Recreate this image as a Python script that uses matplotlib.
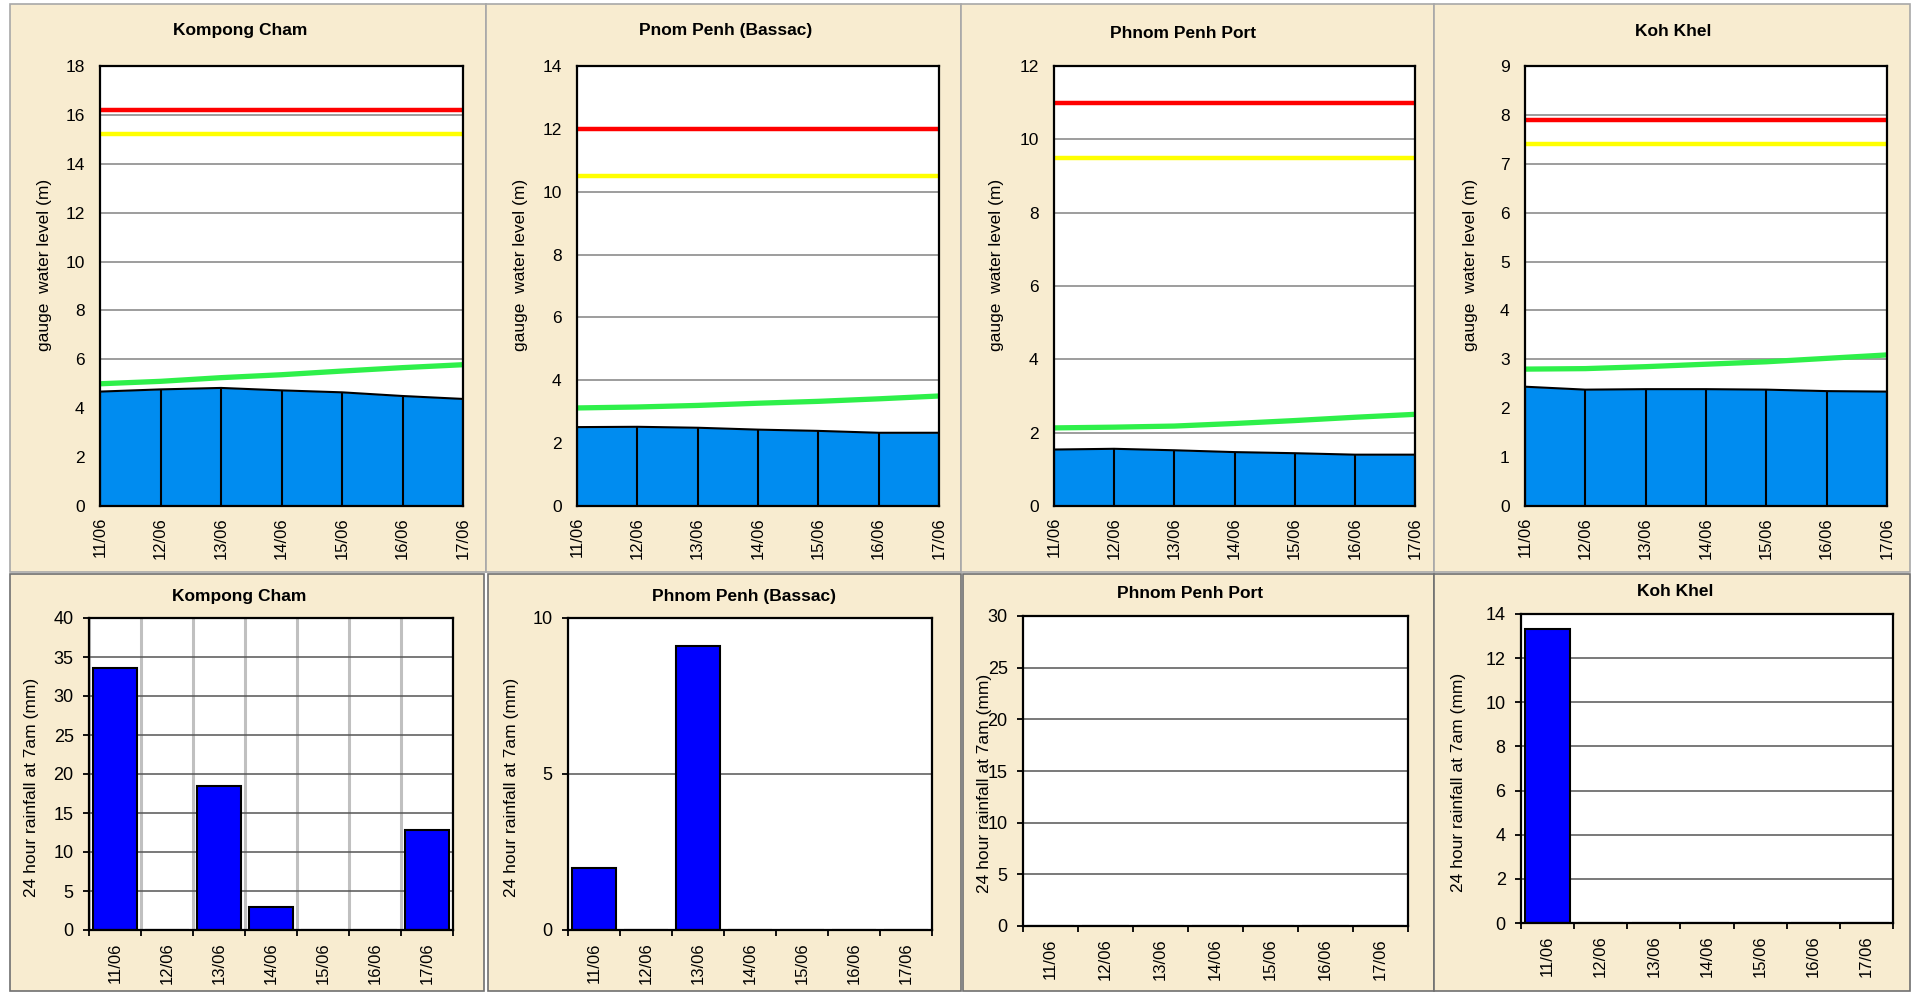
import matplotlib
matplotlib.use('Agg')
import matplotlib.pyplot as plt
from matplotlib.patches import Rectangle
from matplotlib.ticker import MultipleLocator, FixedLocator

plt.rcParams['font.family'] = ['Liberation Sans', 'DejaVu Sans']

W, H = 1912, 992

dates = ['11/06', '12/06', '13/06', '14/06', '15/06', '16/06', '17/06']

# water level panels (top row)
level_titles = ['Kompong Cham', 'Pnom Penh (Bassac)', 'Phnom Penh Port', 'Koh Khel']
kc_level = [4.68, 4.77, 4.83, 4.73, 4.65, 4.50, 4.38]
kc_green = [5.00, 5.10, 5.25, 5.37, 5.52, 5.66, 5.78]
pp_level = [2.51, 2.52, 2.49, 2.43, 2.39, 2.33, 2.33]
pp_green = [3.12, 3.15, 3.20, 3.27, 3.33, 3.41, 3.50]
port_level = [1.54, 1.56, 1.52, 1.47, 1.44, 1.40, 1.40]
port_green = [2.13, 2.15, 2.18, 2.25, 2.33, 2.42, 2.50]
kk_level = [2.44, 2.38, 2.39, 2.39, 2.38, 2.35, 2.34]
kk_green = [2.80, 2.81, 2.85, 2.90, 2.95, 3.02, 3.09]
alarm_levels = [16.2, 12.0, 11.0, 7.9]   # red
flood_levels = [15.2, 10.5, 9.5, 7.4]    # yellow
level_ymax = [18, 14, 12, 9]
level_step = [2, 2, 2, 1]

# rainfall panels (bottom row)
rain_titles = ['Kompong Cham', 'Phnom Penh (Bassac)', 'Phnom Penh Port', 'Koh Khel']
kc_rain = [33.6, 0, 18.5, 2.9, 0, 0, 12.8]
pp_rain = [2.0, 0, 9.1, 0, 0, 0, 0]
port_rain = [0, 0, 0, 0, 0, 0, 0]
kk_rain = [13.3, 0, 0, 0, 0, 0, 0]
rain_ymax = [40, 10, 30, 14]
rain_step = [5, 5, 5, 2]

levels = [kc_level, pp_level, port_level, kk_level]
greens = [kc_green, pp_green, port_green, kk_green]
rains = [kc_rain, pp_rain, port_rain, kk_rain]

BG = '#F8ECD0'
BLUE_AREA = '#008CF0'

# layout in pixels (x0, y0, x1, y1), top-left origin
top_panels = [(10, 4, 486, 572), (486, 4, 961, 572), (961, 4, 1434, 572), (1434, 4, 1910, 572)]
bot_panels = [(10, 574, 484, 991), (488, 574, 961, 991), (963, 574, 1434, 991), (1434, 574, 1910, 991)]
top_axes = [(100, 66, 463, 506), (577, 66, 939, 506), (1054, 66, 1415, 506), (1525, 66, 1887, 506)]
bot_axes = [(89, 618, 453, 930), (568, 618, 932, 930), (1023, 616, 1408, 926), (1521, 614, 1893, 923)]
top_title_pos = [(240, 31), (726, 31), (1183, 34), (1673, 31)]
bot_title_pos = [(239, 597), (744, 597), (1190, 594), (1675, 592)]
top_ylab_pos = [(45, 265), (521, 265), (997, 265), (1470, 265)]
bot_ylab_pos = [(32, 787), (512, 787), (985, 783), (1458, 782)]


def fx(x):
    return x / W


def fy(y):
    return 1 - y / H


def add_axes_px(fig, box):
    x0, y0, x1, y1 = box
    return fig.add_axes([fx(x0), fy(y1), (x1 - x0) / W, (y1 - y0) / H])


def panel_bg(fig, box, edge):
    x0, y0, x1, y1 = box
    fig.patches.append(Rectangle((fx(x0), fy(y1)), (x1 - x0) / W, (y1 - y0) / H,
                                 transform=fig.transFigure, facecolor=BG,
                                 edgecolor=edge, lw=1.2, zorder=-5))


fig = plt.figure(figsize=(W / 100, H / 100), dpi=100, facecolor='white')

for i in range(4):
    panel_bg(fig, top_panels[i], '#A8A8A8')
    panel_bg(fig, bot_panels[i], '#707070')

# top row: gauge water level
for i in range(4):
    ax = add_axes_px(fig, top_axes[i])
    x = list(range(len(dates)))
    ax.set_facecolor('white')
    ax.set_axisbelow(True)
    ax.fill_between(x, levels[i], color=BLUE_AREA, lw=0, zorder=2)
    ax.plot(x, levels[i], color='black', lw=1.5, zorder=3)
    ax.vlines(x, 0, levels[i], color='black', lw=1.5, zorder=3)
    ax.plot(x, [alarm_levels[i]] * len(x), color='#FF0000', lw=3.2, zorder=4)
    ax.plot(x, [flood_levels[i]] * len(x), color='#FFFF00', lw=3.2, zorder=4)
    ax.plot(x, greens[i], color='#2EF04A', lw=3.8, zorder=4, solid_capstyle='butt')
    ax.set_xlim(0, len(dates) - 1)
    ax.set_ylim(0, level_ymax[i])
    ax.yaxis.set_major_locator(MultipleLocator(level_step[i]))
    ax.grid(axis='y', color='#8C8C8C', lw=1.2)
    ax.set_xticks(x)
    ax.set_xticklabels(dates, rotation=90, fontsize=12)
    ax.tick_params(axis='x', length=0, pad=8)
    ax.tick_params(axis='y', length=0, pad=11, labelsize=12.5)
    for s in ax.spines.values():
        s.set_linewidth(1.6)
        s.set_color('black')
        s.set_zorder(5)
    tx, ty = top_title_pos[i]
    fig.text(fx(tx), fy(ty), level_titles[i], ha='center', va='center',
             fontsize=12.5, fontweight='bold')
    lx, ly = top_ylab_pos[i]
    fig.text(fx(lx), fy(ly), 'gauge  water level (m)', rotation=90,
             ha='center', va='center', fontsize=12.5)

# bottom row: rainfall
for i in range(4):
    ax = add_axes_px(fig, bot_axes[i])
    x = list(range(len(dates)))
    ax.set_facecolor('white')
    ax.set_axisbelow(True)
    ax.bar(x, rains[i], width=0.84, color='#0000FF', edgecolor='black', lw=1.5, zorder=3)
    ax.set_xlim(-0.5, len(dates) - 0.5)
    ax.set_ylim(0, rain_ymax[i])
    ax.yaxis.set_major_locator(MultipleLocator(rain_step[i]))
    ax.grid(axis='y', which='major', color='#555555', lw=1.1)
    ax.set_xticks(x)
    ax.set_xticklabels(dates, rotation=90, fontsize=12)
    ax.xaxis.set_minor_locator(FixedLocator([k - 0.5 for k in range(len(dates) + 1)]))
    if i == 0:
        ax.grid(axis='x', which='minor', color='#C0C0C0', lw=2.2)
    ax.tick_params(axis='x', which='major', length=0, pad=9)
    ax.tick_params(axis='x', which='minor', length=4, width=1.3, direction='out')
    ax.tick_params(axis='y', length=4, width=1.3, pad=7, labelsize=13)
    for s in ax.spines.values():
        s.set_linewidth(1.6)
        s.set_color('black')
        s.set_zorder(5)
    tx, ty = bot_title_pos[i]
    fig.text(fx(tx), fy(ty), rain_titles[i], ha='center', va='center',
             fontsize=12.5, fontweight='bold')
    lx, ly = bot_ylab_pos[i]
    fig.text(fx(lx), fy(ly), '24 hour rainfall at 7am (mm)', rotation=90,
             ha='center', va='center', fontsize=12.5, zorder=6)

fig.savefig('out.png', dpi=100, facecolor=fig.get_facecolor())
